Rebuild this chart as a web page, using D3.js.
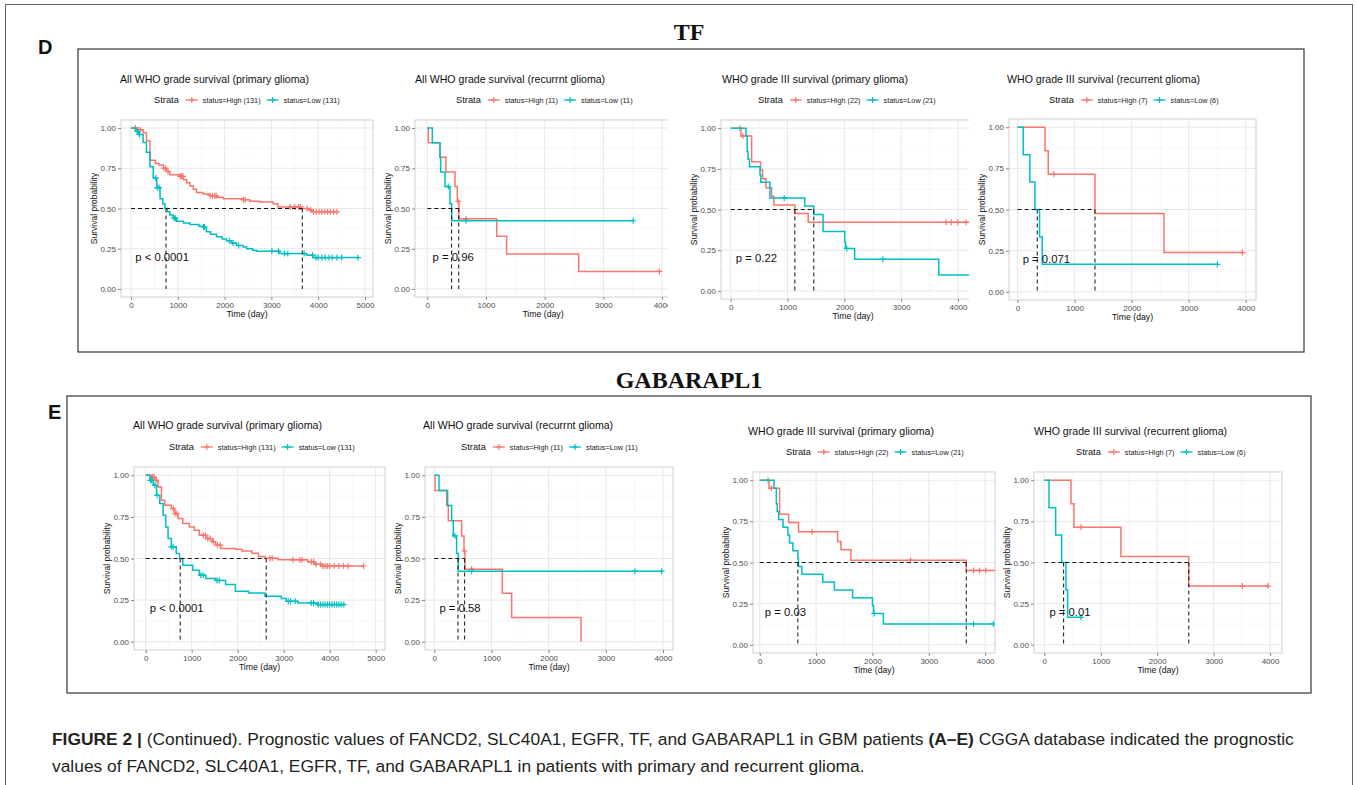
<html>
<head>
<meta charset='UTF-8'>
<script src="https://d3js.org/d3.v7.min.js"></script>
<style>
  body { margin: 0; background: #fff; }
  text { font-family: "Liberation Sans", Arial, sans-serif; }
</style>
</head>
<body>
<svg id="fig" width="1356" height="785"></svg>
<script>
// ---- data (time in days, survival probability) ----
const panelNames = ["TF", "GABARAPL1"];
const panelLetters = ["D", "E"];

const plotTitles = [
  "All WHO grade survival (primary glioma)",
  "All WHO grade survival (recurrnt glioma)",
  "WHO grade III survival (primary glioma)",
  "WHO grade III survival (recurrent glioma)",
  "All WHO grade survival (primary glioma)",
  "All WHO grade survival (recurrnt glioma)",
  "WHO grade III survival (primary glioma)",
  "WHO grade III survival (recurrent glioma)"
];
const legendHigh = ["status=High (131)", "status=High (11)", "status=High (22)", "status=High (7)",
                    "status=High (131)", "status=High (11)", "status=High (22)", "status=High (7)"];
const legendLow  = ["status=Low (131)", "status=Low (11)", "status=Low (21)", "status=Low (6)",
                    "status=Low (131)", "status=Low (11)", "status=Low (21)", "status=Low (6)"];
const pValues = ["p < 0.0001", "p = 0.96", "p = 0.22", "p = 0.071",
                 "p < 0.0001", "p = 0.58", "p = 0.03", "p = 0.01"];
// median survival [low, high]
const medians = [[748, 3660], [414, 535], [1462, 1129], [345, 1357],
                 [750, 2620], [414, 530], [676, 3665], [342, 2560]];

const xTicks5 = [0, 1000, 2000, 3000, 4000, 5000];
const xTicks4 = [0, 1000, 2000, 3000, 4000];
const yTicks = [0, 0.25, 0.5, 0.75, 1];
const yTickLabels = ["0.00", "0.25", "0.50", "0.75", "1.00"];

// D1 TF primary, all grades
const d1High = [[0,1],[130,0.99],[260,0.97],[330,0.92],[405,0.80],[520,0.78],[600,0.77],[690,0.75],[760,0.73],
  [830,0.71],[1050,0.70],[1120,0.68],[1190,0.66],[1260,0.64],[1330,0.62],[1400,0.60],[1540,0.59],[1680,0.58],
  [1830,0.57],[1970,0.56],[2400,0.555],[2540,0.545],[2750,0.54],[3035,0.53],[3140,0.51],[3640,0.50],
  [3800,0.49],[3890,0.48],[4420,0.48]];
const d1HighCens = [90,150,200,700,740,790,1050,1080,1110,1690,1740,1790,1820,2400,2440,3400,3500,3580,3620,
  3760,3840,3900,3960,4020,4080,4140,4200,4260,4330,4400];
const d1Low = [[0,1],[100,0.98],[155,0.96],[260,0.91],[330,0.85],[405,0.76],[475,0.69],[550,0.63],[620,0.56],
  [680,0.53],[725,0.50],[780,0.48],[830,0.46],[900,0.44],[975,0.42],[1120,0.41],[1260,0.40],[1450,0.39],
  [1540,0.385],[1610,0.355],[1700,0.34],[1830,0.325],[1950,0.31],[2040,0.30],[2150,0.285],[2255,0.27],
  [2400,0.26],[2470,0.25],[2600,0.24],[2680,0.235],[3180,0.22],[3750,0.21],[3890,0.195],[4850,0.195]];
const d1LowCens = [130,180,530,560,600,920,950,1550,1570,2100,2180,2300,3010,3150,3280,3350,3700,3880,3950,
  4000,4080,4150,4230,4300,4400,4500,4850];

// D2 TF recurrent, all grades
const d2High = [[0,1],[17,0.909],[216,0.818],[318,0.727],[472,0.636],[511,0.545],[540,0.436],[1182,0.327],
  [1352,0.218],[2580,0.109],[3955,0.109]];
const d2HighCens = [525, 660, 3955];
const d2Low = [[0,1],[85,0.909],[216,0.818],[227,0.727],[301,0.636],[386,0.530],[415,0.424],[3510,0.424]];
const d2LowCens = [358, 660, 3510];

// D3 TF primary, grade III
const d3High = [[0,1],[180,0.952],[368,0.794],[526,0.743],[561,0.689],[620,0.633],[719,0.582],[760,0.528],
  [1129,0.476],[1363,0.422],[4475,0.422]];
const d3HighCens = [160, 215, 3790, 3880, 3995, 4140];
const d3Low = [[0,1],[269,0.952],[290,0.857],[305,0.810],[330,0.762],[515,0.714],[530,0.667],[690,0.571],
  [1304,0.522],[1462,0.470],[1626,0.365],[2006,0.30],[2020,0.261],[2181,0.195],[3661,0.098],[4475,0.098]];
const d3LowCens = [941, 2040, 2678];

// D4 TF recurrent, grade III
const d4High = [[0,1],[480,0.857],[538,0.714],[1357,0.476],[2567,0.238],[3941,0.238]];
const d4HighCens = [637, 3941];
const d4Low = [[0,1],[99,0.833],[216,0.667],[304,0.5],[386,0.333],[433,0.167],[3503,0.167]];
const d4LowCens = [3503];

// E1 GABARAPL1 primary, all grades
const e1High = [[0,1],[130,0.99],[200,0.97],[270,0.93],[343,0.85],[414,0.82],[557,0.80],[628,0.77],[700,0.74],
  [807,0.71],[950,0.69],[1057,0.67],[1164,0.64],[1307,0.62],[1450,0.60],[1521,0.58],[1630,0.56],[1950,0.556],
  [2093,0.545],[2307,0.532],[2450,0.512],[2593,0.502],[2879,0.492],[3520,0.48],[3664,0.465],[3807,0.455],
  [4736,0.455]];
const e1HighCens = [150,180,230,600,640,680,1250,1300,1350,1400,1470,1560,1620,2700,2750,3200,3350,3400,3600,
  3650,3700,3800,3850,3900,3950,4000,4100,4200,4300,4400,4736];
const e1Low = [[0,1],[93,0.97],[164,0.94],[236,0.88],[307,0.83],[379,0.76],[436,0.69],[486,0.62],[557,0.57],
  [664,0.53],[736,0.50],[807,0.46],[1021,0.43],[1164,0.40],[1307,0.38],[1521,0.368],[1736,0.343],[1950,0.303],
  [2236,0.293],[2593,0.273],[2950,0.26],[3057,0.243],[3307,0.233],[3736,0.223],[4307,0.223]];
const e1LowCens = [100,130,200,250,560,600,1200,1250,1550,1600,3100,3150,3250,3600,3650,3750,3800,3850,3900,
  3950,4000,4050,4100,4150,4200,4250,4307];

// E2 GABARAPL1 recurrent, all grades
const e2High = [[0,1],[12,0.909],[216,0.818],[245,0.727],[478,0.636],[519,0.545],[536,0.436],[1190,0.291],
  [1353,0.145],[2566,0]];
const e2HighCens = [525, 653];
const e2Low = [[0,1],[82,0.909],[233,0.818],[303,0.727],[332,0.636],[390,0.530],[420,0.424],[3977,0.424]];
const e2LowCens = [360, 653, 3510, 3977];

// E3 GABARAPL1 primary, grade III
const e3High = [[0,1],[165,0.952],[353,0.793],[512,0.743],[688,0.687],[1382,0.628],[1441,0.578],[1618,0.514],
  [3665,0.452],[4200,0.452]];
const e3HighCens = [147, 206, 929, 2676, 3794, 3900, 4012];
const e3Low = [[0,1],[253,0.952],[294,0.857],[310,0.810],[335,0.762],[412,0.714],[500,0.667],[529,0.619],
  [588,0.571],[676,0.524],[688,0.476],[747,0.429],[1118,0.381],[1324,0.333],[1647,0.286],[2000,0.238],
  [2020,0.19],[2194,0.127],[4200,0.127]];
const e3LowCens = [2030, 3794, 4147];

// E4 GABARAPL1 recurrent, grade III
const e4High = [[0,1],[472,0.857],[525,0.714],[1357,0.536],[2560,0.357],[3965,0.357]];
const e4HighCens = [649, 3510, 3965];
const e4Low = [[0,1],[83,0.833],[201,0.667],[307,0.5],[383,0.333],[413,0.167],[649,0.167]];
const e4LowCens = [649];

const highCurves = [d1High, d2High, d3High, d4High, e1High, e2High, e3High, e4High];
const lowCurves  = [d1Low, d2Low, d3Low, d4Low, e1Low, e2Low, e3Low, e4Low];
const highCens   = [d1HighCens, d2HighCens, d3HighCens, d4HighCens, e1HighCens, e2HighCens, e3HighCens, e4HighCens];
const lowCens    = [d1LowCens, d2LowCens, d3LowCens, d4LowCens, e1LowCens, e2LowCens, e3LowCens, e4LowCens];
const xTickSets  = [xTicks5, xTicks4, xTicks4, xTicks4, xTicks5, xTicks4, xTicks4, xTicks4];

// ---- layout ----
const layout = [
  {left:121, right:373, top:120, bottom:297, xlo:-214, xhi:5171, clip:380, tx:120, ty:83, lx:154, ly:100},
  {left:415, right:671, top:120, bottom:297, xlo:-210, xhi:4153, clip:668, tx:415, ty:83, lx:456, ly:100},
  {left:721, right:985, top:120, bottom:299, xlo:-171, xhi:4475, clip:969, tx:722, ty:83, lx:758, ly:100},
  {left:1009, right:1256, top:119, bottom:300, xlo:-150, xhi:4180, clip:1300, tx:1007, ty:83, lx:1049, ly:100},
  {left:134, right:385, top:467, bottom:650, xlo:-254, xhi:5202, clip:1356, tx:133, ty:429, lx:169, ly:447},
  {left:425, right:673, top:467, bottom:650, xlo:-163, xhi:4175, clip:1356, tx:423, ty:429, lx:461, ly:447},
  {left:753, right:995, top:472, bottom:653, xlo:-120, xhi:4175, clip:1356, tx:748, ty:435, lx:786, ly:452},
  {left:1034, right:1282, top:472, bottom:653, xlo:-183, xhi:4212, clip:1356, tx:1034, ty:435, lx:1076, ly:452}
];

const red = '#F8766D', cyan = '#00BFC4';
const svg = d3.select('svg#fig');

// outer frame and panel frames
svg.append('rect').attr('x', 5.5).attr('y', 4.5).attr('width', 1347).attr('height', 800)
   .attr('fill', 'none').attr('stroke', '#666').attr('stroke-width', 1);

const frames = [{x:78, y:49, w:1226, h:303}, {x:67, y:396, w:1244, h:297}];
const frameTitleY = [40, 388];
const letterPos = [{x:38, y:54}, {x:48, y:419}];
frames.forEach((f, i) => {
  svg.append('rect').attr('x', f.x).attr('y', f.y).attr('width', f.w).attr('height', f.h)
     .attr('fill', 'none').attr('stroke', '#444').attr('stroke-width', 1.3);
  svg.append('text').attr('x', 689).attr('y', frameTitleY[i]).attr('text-anchor', 'middle')
     .style('font-family', '"Liberation Serif", "Times New Roman", serif').style('font-size', '24px')
     .style('font-weight', 'bold').attr('fill', '#111').text(panelNames[i]);
  svg.append('text').attr('x', letterPos[i].x).attr('y', letterPos[i].y)
     .style('font-size', '20px').style('font-weight', 'bold').attr('fill', '#111').text(panelLetters[i]);
});

const defs = svg.append('defs');

function survAt(curve, t) {
  let s = curve[0][1];
  curve.forEach(p => { if (p[0] <= t) s = p[1]; });
  return s;
}

function cross(g, x, y, color, r) {
  g.append('path').attr('d', `M${x - r},${y}H${x + r}M${x},${y - r}V${y + r}`)
   .attr('stroke', color).attr('stroke-width', 1.2).attr('fill', 'none');
}

layout.forEach((L, i) => {
  defs.append('clipPath').attr('id', 'clip' + i)
      .append('rect').attr('x', 0).attr('y', 0).attr('width', L.clip).attr('height', 785);
  defs.append('clipPath').attr('id', 'pclip' + i)
      .append('rect').attr('x', L.left).attr('y', L.top).attr('width', L.right - L.left).attr('height', L.bottom - L.top);

  const g = svg.append('g').attr('clip-path', `url(#clip${i})`);
  const x = d3.scaleLinear().domain([L.xlo, L.xhi]).range([L.left, L.right]);
  const y = d3.scaleLinear().domain([-0.05, 1.05]).range([L.bottom, L.top]);
  const ticks = xTickSets[i];

  // title
  g.append('text').attr('x', L.tx).attr('y', L.ty).style('font-size', '10.6px').attr('fill', '#111')
   .text(plotTitles[i]);

  // legend
  const leg = g.append('g');
  const st = leg.append('text').attr('x', L.lx).attr('y', L.ly).attr('dominant-baseline', 'central')
                .style('font-size', '9.3px').attr('fill', '#111').text('Strata');
  let cx = L.lx + st.node().getComputedTextLength() + 7;
  [[red, legendHigh[i]], [cyan, legendLow[i]]].forEach(([col, lab]) => {
    leg.append('line').attr('x1', cx).attr('x2', cx + 12).attr('y1', L.ly).attr('y2', L.ly)
       .attr('stroke', col).attr('stroke-width', 1.3);
    cross(leg, cx + 6, L.ly, col, 3);
    const t = leg.append('text').attr('x', cx + 17).attr('y', L.ly).attr('dominant-baseline', 'central')
                 .style('font-size', '7.3px').attr('fill', '#222').text(lab);
    cx += 17 + t.node().getComputedTextLength() + 6;
  });

  // panel grid
  const minorX = [];
  const step = ticks[1] - ticks[0];
  [ticks[0] - step / 2, ...ticks.map(t => t + step / 2)].forEach(v => { if (v > L.xlo && v < L.xhi) minorX.push(v); });
  const minorY = [-0.125, 0.125, 0.375, 0.625, 0.875, 1.125].filter(v => v > -0.05 && v < 1.05);
  const grid = g.append('g');
  grid.selectAll('line.mx').data(minorX).join('line').attr('class', 'mx')
      .attr('x1', d => x(d)).attr('x2', d => x(d)).attr('y1', L.top).attr('y2', L.bottom)
      .attr('stroke', '#f3f3f3').attr('stroke-width', 0.6);
  grid.selectAll('line.my').data(minorY).join('line').attr('class', 'my')
      .attr('x1', L.left).attr('x2', L.right).attr('y1', d => y(d)).attr('y2', d => y(d))
      .attr('stroke', '#f3f3f3').attr('stroke-width', 0.6);
  grid.selectAll('line.gx').data(ticks).join('line').attr('class', 'gx')
      .attr('x1', d => x(d)).attr('x2', d => x(d)).attr('y1', L.top).attr('y2', L.bottom)
      .attr('stroke', '#e8e8e8').attr('stroke-width', 1);
  grid.selectAll('line.gy').data(yTicks).join('line').attr('class', 'gy')
      .attr('x1', L.left).attr('x2', L.right).attr('y1', d => y(d)).attr('y2', d => y(d))
      .attr('stroke', '#e8e8e8').attr('stroke-width', 1);
  g.append('rect').attr('x', L.left).attr('y', L.top).attr('width', L.right - L.left)
   .attr('height', L.bottom - L.top).attr('fill', 'none').attr('stroke', '#cfcfcf').attr('stroke-width', 1);

  // axes
  const xAxis = g.append('g').attr('transform', `translate(0,${L.bottom})`)
                 .call(d3.axisBottom(x).tickValues(ticks).tickFormat(d3.format('d')).tickSize(3).tickPadding(2));
  const yAxis = g.append('g').attr('transform', `translate(${L.left},0)`)
                 .call(d3.axisLeft(y).tickValues(yTicks).tickFormat((d, k) => yTickLabels[k]).tickSize(3).tickPadding(2));
  [xAxis, yAxis].forEach(a => {
    a.select('.domain').remove();
    a.selectAll('line').attr('stroke', '#888');
    a.selectAll('text').style('font-size', '8px').style('font-family', '"Liberation Sans", Arial, sans-serif')
     .attr('fill', '#4d4d4d');
  });

  g.append('text').attr('x', (L.left + L.right) / 2).attr('y', L.bottom + 20).attr('text-anchor', 'middle')
   .style('font-size', '8.7px').attr('fill', '#111').text('Time (day)');
  g.append('text').attr('transform', `translate(${L.left - 27},${(L.top + L.bottom) / 2}) rotate(-90)`)
   .attr('text-anchor', 'middle').attr('dominant-baseline', 'central')
   .style('font-size', '8.5px').attr('fill', '#111').text('Survival probability');

  // curves
  const area = g.append('g').attr('clip-path', `url(#pclip${i})`);
  const line = d3.line().x(d => x(d[0])).y(d => y(d[1])).curve(d3.curveStepAfter);
  [[highCurves[i], highCens[i], red], [lowCurves[i], lowCens[i], cyan]].forEach(([curve, cens, col]) => {
    area.append('path').attr('d', line(curve)).attr('fill', 'none')
        .attr('stroke', col).attr('stroke-width', 1.5);
    cens.forEach(t => cross(area, x(t), y(survAt(curve, t)), col, 3));
  });

  // median lines
  const med = medians[i];
  const dash = area.append('g').attr('stroke', '#111').attr('stroke-width', 1)
                   .attr('stroke-dasharray', '4,3').attr('fill', 'none');
  dash.append('line').attr('x1', x(0)).attr('x2', x(d3.max(med))).attr('y1', y(0.5)).attr('y2', y(0.5));
  med.forEach(m => dash.append('line').attr('x1', x(m)).attr('x2', x(m)).attr('y1', y(0.5)).attr('y2', y(0)));

  // p value
  g.append('text').attr('x', x(90)).attr('y', y(0.2)).attr('dominant-baseline', 'central')
   .style('font-size', '11.3px').attr('fill', '#111').text(pValues[i]);
});

// caption
const cap = svg.append('g').style('font-size', '17.4px').attr('fill', '#231f20');
const line1 = cap.append('text').attr('x', 52).attr('y', 745);
line1.append('tspan').style('font-weight', 'bold').text('FIGURE 2 |');
line1.append('tspan').text(' (Continued). Prognostic values of FANCD2, SLC40A1, EGFR, TF, and GABARAPL1 in GBM patients ');
line1.append('tspan').style('font-weight', 'bold').text('(A–E)');
line1.append('tspan').text(' CGGA database indicated the prognostic');
cap.append('text').attr('x', 52).attr('y', 772)
   .text('values of FANCD2, SLC40A1, EGFR, TF, and GABARAPL1 in patients with primary and recurrent glioma.');
</script>
</body>
</html>
